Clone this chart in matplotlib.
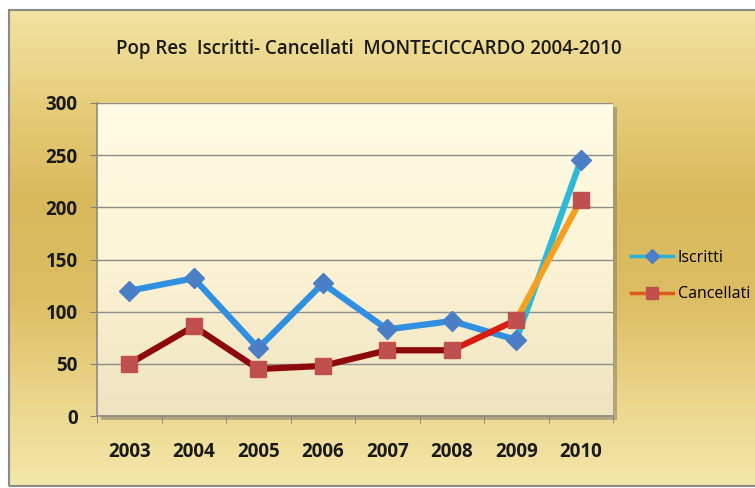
import numpy as np
import matplotlib
matplotlib.use("Agg")
import matplotlib.pyplot as plt
from matplotlib.patches import Rectangle
from matplotlib.colors import LinearSegmentedColormap
from matplotlib.lines import Line2D

years = ["2003", "2004", "2005", "2006", "2007", "2008", "2009", "2010"]
iscritti = [120, 132, 65, 127, 83, 91, 73, 245]
cancellati = [50, 86, 45, 48, 63, 63, 92, 207]
title = "Pop Res  Iscritti- Cancellati  MONTECICCARDO 2004-2010"

plt.rcParams['font.family'] = ['Open Sans', 'DejaVu Sans']

fig = plt.figure(figsize=(7.55, 4.88), dpi=100)
fig.patch.set_facecolor("white")

# outer gold background
bg = fig.add_axes([0, 0, 1, 1], zorder=-10)
bg.set_axis_off()
cm_gold = LinearSegmentedColormap.from_list("gold", ["#f2e3a2", "#e6cd7a", "#d9b95c", "#dcbd63", "#ead488", "#f4e7ab"])
grad = np.linspace(0, 1, 256).reshape(-1, 1)
bg.imshow(grad, cmap=cm_gold, aspect="auto", extent=[9/755, 1.0, 2/488, 478/488], origin="upper",
          transform=bg.transAxes)
bg.set_xlim(0, 1); bg.set_ylim(0, 1)
bg.add_patch(Rectangle((9/755, 2/488), 1.0, 476/488, fill=False, edgecolor="#8a8a8a", lw=1.5,
                       transform=bg.transAxes))

L, B, R, T = 97/755, 72/488, 613/755, 385/488
# shadow
bg.add_patch(Rectangle((L + 4/755, B - 4/488), R - L, T - B, facecolor="#8c8670", edgecolor="none",
                       alpha=0.6, transform=bg.transAxes))

ax = fig.add_axes([L, B, R - L, T - B])
cm_plot = LinearSegmentedColormap.from_list("plot", ["#fffbe4", "#fcf4d6", "#efe2bf"])
ax.imshow(grad, cmap=cm_plot, aspect="auto", extent=[0, 1, 0, 1], origin="upper",
          transform=ax.transAxes, zorder=0)

x = np.arange(len(years))
ax.set_xlim(-0.5, len(years) - 0.5)
ax.set_ylim(0, 300)
ax.set_yticks(np.arange(0, 301, 50))
ax.yaxis.grid(True, color="#8c8c8c", lw=1.0)
ax.set_axisbelow(True)
ax.set_xticks(x)
ax.set_xticklabels(years)
ax.set_xticks(np.arange(-0.5, len(years), 1), minor=True)
ax.tick_params(axis="x", which="major", length=0, pad=19, labelsize=13.5)
ax.tick_params(axis="x", which="minor", length=5, color="#808080", direction="out")
ax.tick_params(axis="y", length=5, color="#808080", labelsize=13.5, pad=9)
for lab in ax.get_xticklabels() + ax.get_yticklabels():
    lab.set_fontweight("bold")
    lab.set_color("#1a1a1a")
for s in ["top", "right"]:
    ax.spines[s].set_visible(False)
for s in ["left", "bottom"]:
    ax.spines[s].set_color("#8a8a8a")
    ax.spines[s].set_linewidth(1.2)

lw = 4.5
# Iscritti
ax.plot(x[:-1], iscritti[:-1], color="#2f8fe0", lw=lw, solid_joinstyle="miter", zorder=3)
ax.plot(x[-2:], iscritti[-2:], color="#2bbad8", lw=lw, zorder=3)
ax.plot(x, iscritti, ls="none", marker="D", ms=10, color="#4a7fc8", zorder=5)
# Cancellati
ax.plot(x[:-2], cancellati[:-2], color="#8e0a0a", lw=lw, zorder=3)
ax.plot(x[-3:-1], cancellati[-3:-1], color="#d81c12", lw=lw, zorder=3)
ax.plot(x[-2:], cancellati[-2:], color="#f5a020", lw=lw, zorder=3)
ax.plot(x, cancellati, ls="none", marker="s", ms=11, color="#c0504d", zorder=6)

# legend
h1 = Line2D([], [], color="#2bb0d8", lw=2.5, marker="D", ms=7, mfc="#4a7fc8", mec="#4a7fc8")
h2 = Line2D([], [], color="#e05a18", lw=2.5, marker="s", ms=8, mfc="#c0504d", mec="#c0504d")
leg = fig.legend([h1, h2], ["Iscritti", "Cancellati"], loc="center left",
                 bbox_to_anchor=(617/755, 1 - 276/488), frameon=False, fontsize=11.5,
                 handlelength=2.6, labelspacing=1.3, handletextpad=0.3)

fig.text(369/755, 1 - 49/488, title, ha="center", va="center", fontsize=13.5,
         fontweight="semibold", color="#1a1a1a")

fig.savefig("out.png", dpi=100)
